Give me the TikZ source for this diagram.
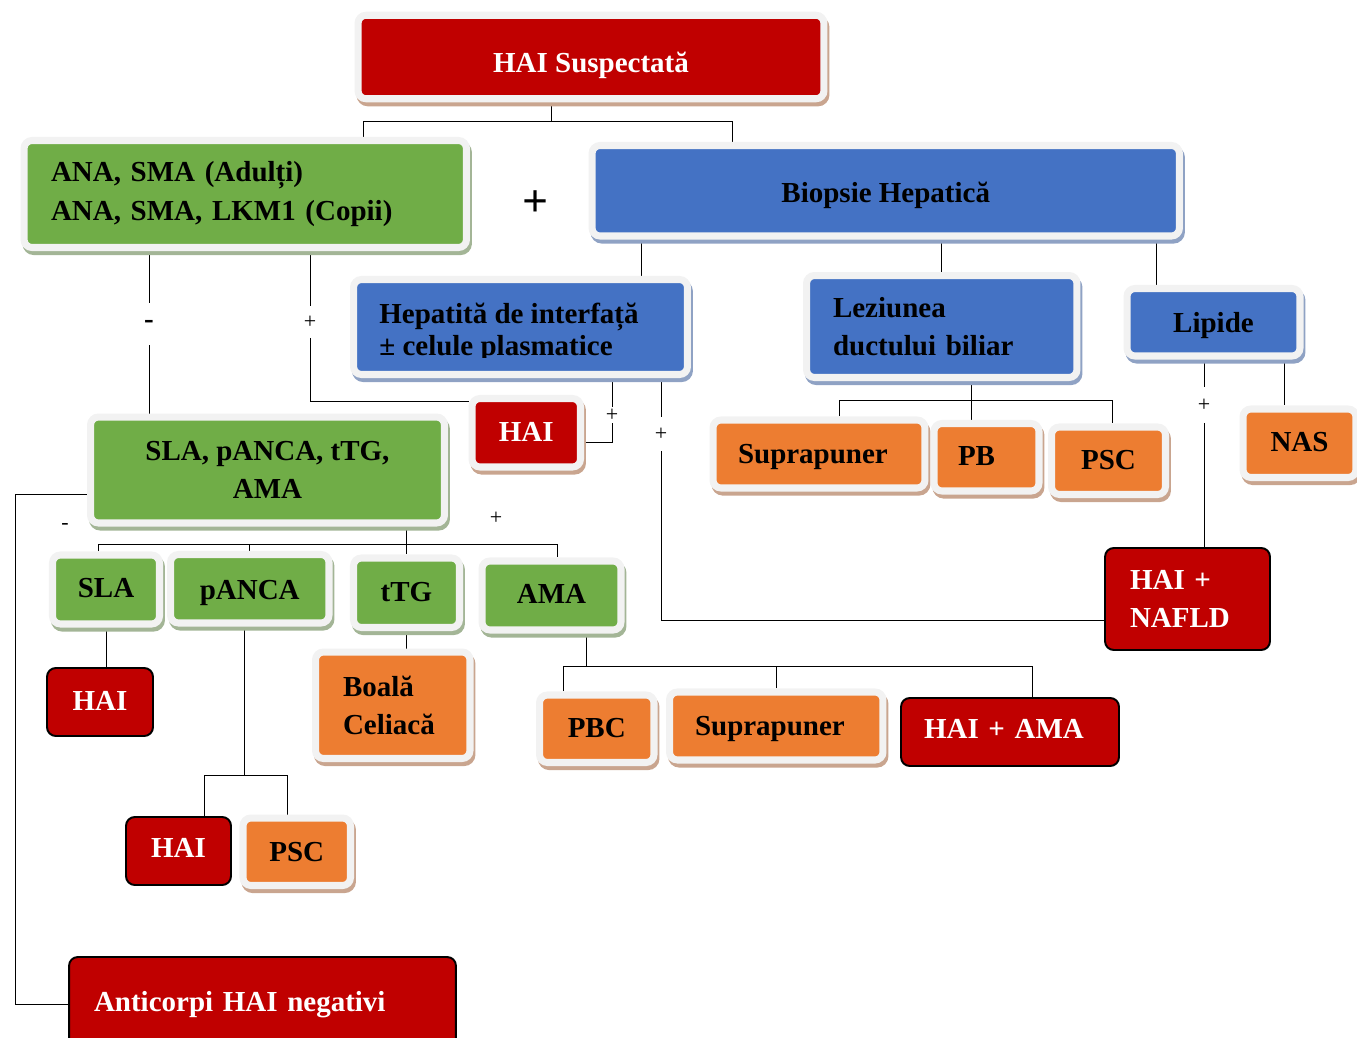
\documentclass[tikz,border=0pt]{standalone}
\usepackage{fontspec}
\setmainfont{Liberation Serif}
\usetikzlibrary{shadows,backgrounds}

\definecolor{haired}{HTML}{C00000}
\definecolor{haigreen}{HTML}{70AD47}
\definecolor{haiblue}{HTML}{4472C4}
\definecolor{haiorange}{HTML}{ED7D31}
\definecolor{rimgray}{HTML}{F2F2F2}
\definecolor{tanshadow}{HTML}{C9A58F}
\definecolor{blueshadow}{HTML}{8FA2C4}
\definecolor{greenshadow}{HTML}{A3B596}

\newcommand\hbfont{\fontsize{16.5}{21.8}\selectfont\bfseries}

\tikzset{
  rim/.style 2 args={rounded corners=4.5pt, line width=4pt, draw=rimgray, fill=#1,
    inner sep=0pt, font=\hbfont,
    general shadow={fill=#2, draw=#2, line width=4pt, shadow xshift=1.1pt, shadow yshift=-2.3pt}},
  redrim/.style={rim={haired}{tanshadow}, text=white},
  greenrim/.style={rim={haigreen}{greenshadow}},
  bluerim/.style={rim={haiblue}{blueshadow}},
  orangerim/.style={rim={haiorange}{tanshadow}},
  redbox/.style={rounded corners=5pt, line width=1.1pt, draw=black, fill=haired,
    text=white, inner sep=0pt, font=\hbfont},
  oneline/.style={text height=#1, text depth=0pt},
  oneline/.default=0.33cm,
  lefttext/.style 2 args={align=left, text width=#1, inner xsep=#2},
  conn/.style={line width=1.25pt},
  sign/.style={inner sep=0pt, minimum height=0.6cm, font=\fontsize{12.5}{14}\selectfont}
}

\begin{document}
\begin{tikzpicture}[x=0.02cm, y=-0.02cm]
	\useasboundingbox (0,0) rectangle (1357,1038);
	\clip (0,0) rectangle (1357,1038);
	
	%First level
	\node[redrim, oneline=0.63cm, minimum width=9.32cm, minimum height=1.67cm] (susp) at (591,57) {HAI Suspectată};
	\node[greenrim, lefttext={7.77cm}{0.54cm}, minimum height=2.14cm] (ana) at (245.25,194) {ANA, SMA (Adulți)\\ANA, SMA, LKM1 (Copii)};
	\node[font=\fontsize{26}{30}\selectfont\bfseries] (plus) at (536,204) {+};
	\node[bluerim, oneline=0.47cm, minimum width=11.75cm, minimum height=1.81cm] (biop) at (885.75,190.75) {Biopsie Hepatică};
	
	%Biopsy findings
	\node[bluerim, minimum width=6.68cm, minimum height=1.9cm] (hep) at (520.5,327) {};
	\begin{scope}
		\clip (357,283) rectangle (683,357);
		\node[anchor=north west, inner sep=0pt, align=left, font=\fontsize{16.5}{18.2}\selectfont\bfseries] (heptext) at (379,303) {Hepatită de interfață\\± celule plasmatice};
	\end{scope}
	\node[bluerim, lefttext={4.35cm}{0.53cm}, minimum height=2.04cm] (lez) at (941.75,326.5) {Leziunea\\ductului biliar};
	\node[bluerim, oneline=0.39cm, minimum width=3.46cm, minimum height=1.35cm] (lip) at (1213.5,322.25) {Lipide};
	\node[redrim, oneline, minimum width=2.17cm, minimum height=1.37cm] (haiA) at (526.25,432.75) {HAI};
	\node[orangerim, oneline=0.36cm, lefttext={3.24cm}{0.5cm}, minimum height=1.36cm] (sup1) at (819,454) {Suprapuner};
	\node[orangerim, oneline, lefttext={1.14cm}{0.48cm}, minimum height=1.35cm] (pb) at (986.5,457.25) {PB};
	\node[orangerim, oneline=0.35cm, minimum width=2.28cm, minimum height=1.35cm] (psc1) at (1108.5,460.75) {PSC};
	\node[orangerim, oneline, minimum width=2.26cm, minimum height=1.37cm] (nas) at (1299.5,443.25) {NAS};
	\node[redbox, lefttext={2.3cm}{0.5cm}, minimum height=2.04cm] (nafld) at (1187.5,599) {HAI +\\NAFLD};
	
	%Second antibody panel
	\node[greenrim, align=center, minimum width=7.08cm, minimum height=2.12cm] (slabig) at (267.5,470) {SLA, pANCA, tTG,\\AMA};
	\node[greenrim, oneline, minimum width=2.14cm, minimum height=1.38cm] (sla) at (106,589.5) {SLA};
	\node[greenrim, oneline=0.43cm, minimum width=3.17cm, minimum height=1.37cm] (panca) at (249.75,588.75) {pANCA};
	\node[greenrim, oneline, minimum width=2.12cm, minimum height=1.39cm] (ttg) at (406.5,592.75) {tTG};
	\node[greenrim, oneline, minimum width=2.78cm, minimum height=1.38cm] (ama) at (551.5,595.5) {AMA};
	
	%Outcomes
	\node[redbox, oneline, minimum width=2.12cm, minimum height=1.36cm] (hai1) at (100,702) {HAI};
	\node[orangerim, lefttext={1.99cm}{0.55cm}, minimum height=2.13cm] (celiac) at (392.75,705.25) {Boală\\Celiacă};
	\node[redbox, oneline=0.26cm, minimum width=2.1cm, minimum height=1.36cm] (hai2) at (178.5,851) {HAI};
	\node[orangerim, oneline=0.37cm, minimum width=2.15cm, minimum height=1.35cm] (psc2) at (296.75,851.75) {PSC};
	\node[orangerim, oneline, minimum width=2.29cm, minimum height=1.35cm] (pbc) at (596.75,728.75) {PBC};
	\node[orangerim, oneline=0.36cm, lefttext={3.25cm}{0.51cm}, minimum height=1.36cm] (sup2) at (776.25,726) {Suprapuner};
	\node[redbox, oneline=0.24cm, lefttext={3.44cm}{0.46cm}, minimum height=1.36cm] (haiama) at (1010,732) {HAI + AMA};
	\node[redbox, oneline=0.28cm, lefttext={6.74cm}{0.5cm}, minimum height=1.88cm] (anti) at (262.5,1004) {Anticorpi HAI negativi};
	
	%Signs on the branches
	\node[sign, font=\hbfont, minimum height=0.84cm] (m1) at (149,324) {-};
	\node[sign, minimum height=0.62cm] (p1) at (310,322) {+};
	\node[sign, minimum height=0.32cm] (p2) at (612,415) {+};
	\node[sign, minimum height=0.66cm] (p3) at (661,434) {+};
	\node[sign, minimum height=0.7cm] (p4) at (1204,405) {+};
	\node[sign] (m2) at (65,526) {-};
	\node[sign] (p5) at (496,518) {+};
	
	%Marking branch points
	\coordinate (t1) at (551,121);
	\coordinate (l1) at (363,121);
	\coordinate (r1) at (732,121);
	\coordinate (c1) at (310,401);
	\coordinate (bh) at (641,260);
	\coordinate (bl) at (1156,260);
	\coordinate (c2) at (612,442);
	\coordinate (c3) at (661,620);
	\coordinate (t2) at (971,400);
	\coordinate (l2) at (839,400);
	\coordinate (r2) at (1112,400);
	\coordinate (ln) at (1284,380);
	\coordinate (c4) at (15,494);
	\coordinate (l3) at (98,544);
	\coordinate (r3) at (557,544);
	\coordinate (t4) at (244,775);
	\coordinate (l4) at (204,775);
	\coordinate (r4) at (287,775);
	\coordinate (t5) at (586,666);
	\coordinate (l5) at (563,666);
	\coordinate (r5) at (1032,666);
	
	%Drawing connectors behind the boxes
	\begin{scope}[on background layer, conn]
		\draw (t1 |- susp.south) -- (t1);
		\draw (l1 |- ana.north) -- (l1) -- (r1) -- (r1 |- biop.north);
		\draw (m1 |- ana.south) -- (m1);
		\draw (m1) -- (m1 |- slabig.north);
		\draw (p1 |- ana.south) -- (p1);
		\draw (p1) -- (c1) -- (c1 -| haiA.west);
		\draw (bh |- biop.south) -- (bh |- hep.north);
		\draw (lez.north |- biop.south) -- (lez.north);
		\draw (bl |- biop.south) -- (bl |- lip.north);
		\draw (p2 |- hep.south) -- (p2);
		\draw (p2) -- (c2) -- (c2 -| haiA.east);
		\draw (p3 |- hep.south) -- (p3);
		\draw (p3) -- (c3) -- (c3 -| nafld.west);
		\draw (t2 |- lez.south) -- (t2 |- pb.north);
		\draw (l2 |- sup1.north) -- (l2) -- (r2) -- (r2 |- psc1.north);
		\draw (p4 |- lip.south) -- (p4);
		\draw (p4) -- (p4 |- nafld.north);
		\draw (ln |- lip.south) -- (ln |- nas.north);
		\draw (slabig.west |- c4) -- (c4) |- (anti.west);
		\draw (ttg.north |- slabig.south) -- (ttg.north);
		\draw (l3 |- sla.north) -- (l3) -- (r3) -- (r3 |- ama.north);
		\draw (panca.north) -- (panca.north |- l3);
		\draw (sla.south) -- (sla.south |- hai1.north);
		\draw (t4 |- panca.south) -- (t4);
		\draw (l4 |- hai2.north) -- (l4) -- (r4) -- (r4 |- psc2.north);
		\draw (ttg.south) -- (ttg.south |- celiac.north);
		\draw (t5 |- ama.south) -- (t5);
		\draw (l5 |- pbc.north) -- (l5) -- (r5) -- (r5 |- haiama.north);
		\draw (sup2.north) -- (sup2.north |- t5);
	\end{scope}
\end{tikzpicture}
\end{document}
